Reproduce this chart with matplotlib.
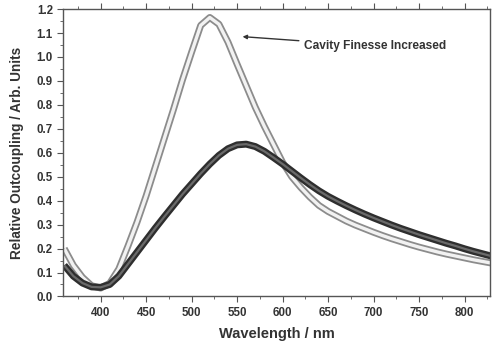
import numpy as np
import matplotlib
matplotlib.use('Agg')
import matplotlib.pyplot as plt

plt.rcParams['font.family'] = ['Liberation Sans', 'DejaVu Sans']
plt.rcParams['font.weight'] = 'bold'

wavelength = [360, 370, 380, 390, 400, 410, 420, 430, 440, 450,
              460, 470, 480, 490, 500, 510, 520, 530, 540, 550,
              560, 570, 580, 590, 600, 610, 620, 630, 640, 650,
              660, 670, 680, 690, 700, 710, 720, 730, 740, 750,
              760, 770, 780, 790, 800, 810, 820, 830]

# high finesse cavity (light curve)
high_finesse = [0.20, 0.13, 0.08, 0.045, 0.035, 0.055, 0.115, 0.21, 0.31, 0.42,
                0.54, 0.66, 0.78, 0.905, 1.02, 1.132, 1.165, 1.137, 1.062, 0.97,
                0.88, 0.79, 0.71, 0.635, 0.56, 0.50, 0.455, 0.415, 0.38, 0.355,
                0.335, 0.315, 0.298, 0.283, 0.268, 0.254, 0.241, 0.229, 0.217, 0.206,
                0.196, 0.186, 0.177, 0.169, 0.161, 0.153, 0.146, 0.139]

# low finesse cavity (dark curve)
low_finesse = [0.13, 0.085, 0.056, 0.04, 0.038, 0.05, 0.085, 0.135, 0.185, 0.235,
               0.285, 0.333, 0.38, 0.427, 0.47, 0.513, 0.553, 0.589, 0.617, 0.633,
               0.636, 0.626, 0.606, 0.58, 0.553, 0.524, 0.495, 0.467, 0.441, 0.418,
               0.398, 0.379, 0.361, 0.344, 0.328, 0.313, 0.298, 0.284, 0.271, 0.258,
               0.246, 0.234, 0.222, 0.211, 0.199, 0.188, 0.178, 0.168]

fig = plt.figure(figsize=(4.92, 3.5), dpi=100)
ax = fig.add_axes([0.1287, 0.153, 0.8673, 0.821])

# tube look of dense hollow markers
ax.plot(wavelength, high_finesse, '-', color='#8c8c8c', lw=5.0, solid_capstyle='butt')
ax.plot(wavelength, high_finesse, '-', color='#f2f2f2', lw=2.4, solid_capstyle='butt')
ax.plot(wavelength, low_finesse, '-', color='#2e2e2e', lw=5.0, solid_capstyle='butt')
ax.plot(wavelength, low_finesse, '-', color='#6a6a6a', lw=1.6, solid_capstyle='butt')

ax.set_xlim(359, 828)
ax.set_ylim(0, 1.2)
ax.set_xticks(np.arange(400, 801, 50))
ax.set_xticks(np.arange(375, 828, 50), minor=True)
ax.set_yticks(np.arange(0, 1.21, 0.1))
ax.set_yticks(np.arange(0.05, 1.2, 0.1), minor=True)
ax.yaxis.set_major_formatter(matplotlib.ticker.FormatStrFormatter('%.1f'))

for s in ax.spines.values():
    s.set_color('#555555')
    s.set_linewidth(1.0)
ax.tick_params(which='both', direction='out', colors='#555555', top=True,
               labelsize=8.3, labelcolor='#333333')
ax.tick_params(which='major', length=4)
ax.tick_params(which='minor', length=2.5)

ax.set_xlabel("Wavelength / nm", fontsize=10.5, fontweight='bold', color='#333333', labelpad=6)
ax.set_ylabel("Relative Outcoupling / Arb. Units", fontsize=9.8, fontweight='bold',
              color='#333333', labelpad=9)

ax.annotate("Cavity Finesse Increased", xy=(556, 1.085), xytext=(624, 1.045),
            fontsize=8.6, fontweight='bold', color='#333333', va='center',
            arrowprops=dict(arrowstyle='-|>', color='#333333', lw=1.0,
                            shrinkA=2, shrinkB=0, mutation_scale=6))

fig.savefig('out.png', dpi=100)
